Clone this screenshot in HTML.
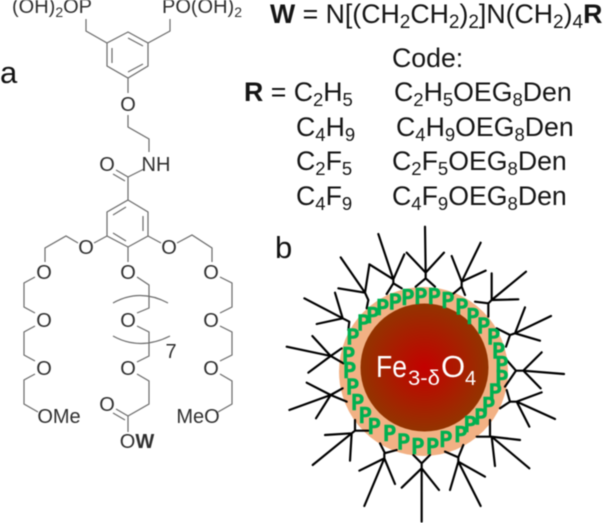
<!DOCTYPE html>
<html><head><meta charset="utf-8">
<style>
html,body{margin:0;padding:0;background:#fff;width:605px;height:523px;overflow:hidden}
svg{display:block;filter:blur(.45px)}
text{font-family:"Liberation Sans",sans-serif}
.chem text{fill:#2f2f2f;font-size:20px;text-anchor:middle}
.r text{fill:#151515;font-size:26.7px}
.p text{fill:#00b050;stroke:#00b050;stroke-width:4.5;font-size:62px;text-anchor:middle;font-family:"DejaVu Sans",sans-serif}
</style></head><body>
<svg width="605" height="523" viewBox="0 0 605 523" xmlns="http://www.w3.org/2000/svg">
<defs><radialGradient id="g"><stop offset="0" stop-color="#c40000"/><stop offset="1" stop-color="#933400"/></radialGradient></defs>

<g fill="none" stroke="#6a6a6a" stroke-width="1.2">
<path d="M128 32L148 43V66L128 78L107 66V43Z"/>
<path d="M128 38L143 46M112 48V63M128 72L143 64"/>
<path d="M107 43L86 31V19M148 43L170 31V19"/>
<path d="M128 78V93M128 115V127L149 139V152M144 169L128 177M128 177V200"/>
<path d="M128 177L116 170M125 181L113 174"/>
<path d="M128 200L148 212V236L128 247L107 236V212Z"/>
<path d="M113 215L126 207M143 216V231M113 233L126 241"/>
<path d="M107 236L94 243M78 243L66 236L45 248V262"/>
<path d="M148 236L161 243M177 243L192 235L212 248V262"/>
<path d="M128 247V262"/>
<path d="M35 277L24 283V307L35 313M35 326L24 332V355L35 361M35 374L24 380V404L38 412"/>
<path d="M137 277L149 285V308L137 313M137 326L149 332V356L137 362M137 374L149 381V404L128 416"/>
<path d="M220 277L232 283V307L220 313M220 326L232 332V355L220 361M220 374L232 381V404L218 412"/>
<path d="M128 416L116 409M125 420L113 413M128 416V432"/>
<path d="M113 303Q140 288 168 303M113 336Q140 351 170 336"/>
</g>

<g class="chem">
<text x="52" y="13">(OH)<tspan font-size="14" dy="4">2</tspan><tspan dy="-4">OP</tspan></text>
<text x="202" y="13">PO(OH)<tspan font-size="14" dy="4">2</tspan></text>
<text x="128" y="111">O</text>
<text x="156" y="171">NH</text>
<text x="107" y="171">O</text>
<text x="86" y="254">O</text>
<text x="169" y="254">O</text>
<text x="44" y="279">O</text><text x="128" y="279">O</text><text x="211" y="279">O</text>
<text x="44" y="327">O</text><text x="128" y="327">O</text><text x="211" y="327">O</text>
<text x="44" y="375">O</text><text x="128" y="375">O</text><text x="211" y="375">O</text>
<text x="59" y="423">OMe</text>
<text x="198" y="423">MeO</text>
<text x="107" y="411">O</text>
<text x="137" y="448">O<tspan font-weight="bold">W</tspan></text>
<text x="171" y="358">7</text>
</g>

<text x="0" y="83" font-size="31" fill="#111">a</text>
<text x="275" y="258" font-size="31" fill="#111">b</text>

<g class="r">
<text x="270" y="23" font-size="27.9"><tspan font-weight="bold">W</tspan> = N[(CH<tspan font-size="19" dy="5">2</tspan><tspan dy="-5">CH</tspan><tspan font-size="19" dy="5">2</tspan><tspan dy="-5">)</tspan><tspan font-size="19" dy="5">2</tspan><tspan dy="-5">]N(CH</tspan><tspan font-size="19" dy="5">2</tspan><tspan dy="-5">)</tspan><tspan font-size="19" dy="5">4</tspan><tspan dy="-5" font-weight="bold">R</tspan></text>
<text x="392" y="67" font-size="25.5">Code:</text>
<text x="244" y="101"><tspan font-weight="bold">R</tspan> = C<tspan font-size="18.5" dy="5">2</tspan><tspan dy="-5">H</tspan><tspan font-size="18.5" dy="5">5</tspan></text>
<text x="296" y="136">C<tspan font-size="18.5" dy="5">4</tspan><tspan dy="-5">H</tspan><tspan font-size="18.5" dy="5">9</tspan></text>
<text x="296" y="170">C<tspan font-size="18.5" dy="5">2</tspan><tspan dy="-5">F</tspan><tspan font-size="18.5" dy="5">5</tspan></text>
<text x="296" y="205">C<tspan font-size="18.5" dy="5">4</tspan><tspan dy="-5">F</tspan><tspan font-size="18.5" dy="5">9</tspan></text>
<text x="394" y="101">C<tspan font-size="18.5" dy="5">2</tspan><tspan dy="-5">H</tspan><tspan font-size="18.5" dy="5">5</tspan><tspan dy="-5">OEG</tspan><tspan font-size="18.5" dy="5">8</tspan><tspan dy="-5">Den</tspan></text>
<text x="396" y="136">C<tspan font-size="18.5" dy="5">4</tspan><tspan dy="-5">H</tspan><tspan font-size="18.5" dy="5">9</tspan><tspan dy="-5">OEG</tspan><tspan font-size="18.5" dy="5">8</tspan><tspan dy="-5">Den</tspan></text>
<text x="392" y="170">C<tspan font-size="18.5" dy="5">2</tspan><tspan dy="-5">F</tspan><tspan font-size="18.5" dy="5">5</tspan><tspan dy="-5">OEG</tspan><tspan font-size="18.5" dy="5">8</tspan><tspan dy="-5">Den</tspan></text>
<text x="392" y="205">C<tspan font-size="18.5" dy="5">4</tspan><tspan dy="-5">F</tspan><tspan font-size="18.5" dy="5">9</tspan><tspan dy="-5">OEG</tspan><tspan font-size="18.5" dy="5">8</tspan><tspan dy="-5">Den</tspan></text>
</g>

<circle cx="423.5" cy="371.5" r="84.5" fill="#f2b184"/>
<circle cx="424.5" cy="367.5" r="64" fill="url(#g)"/>

<g transform="translate(270 220) scale(.33333)">
<g fill="none" stroke="#000" stroke-width="6.5" stroke-linecap="round" stroke-linejoin="round">
<path d="M467 158L465 20M467 158L410 98M467 158L522 98M467 158V175M437 200L467 175L495 200"/>
<path d="M370 178L325 42M370 178L403 103M370 178L298 133M370 178V190M350 222L370 190L395 205"/>
<path d="M285 218L212 112M285 218L298 135M285 218L205 205M285 218L295 240L290 265"/>
<path d="M218 295L103 235M218 295L195 218M218 295L140 312M218 295L238 305L235 330"/>
<path d="M182 408L50 380M182 408L127 348M182 408L115 458M182 408L220 430M182 408L215 385"/>
<path d="M182 525L110 488M182 525L58 570M182 525L138 595M182 525L230 545M182 525L218 505"/>
<path d="M245 640L165 645M245 640L128 735M245 640L240 722M245 640L255 632H295M255 632V600"/>
<path d="M343 715L268 752M343 715L283 858M343 715L375 792M343 715V700L380 690M345 700L330 670"/>
<path d="M455 745L395 803M455 745V905M455 745L507 810M455 745V730L430 705M455 730L480 705"/>
<path d="M565 725L540 810M565 725L632 858M565 725L645 770M565 725V712L525 695M565 712L580 675"/>
<path d="M665 650L750 660M665 650L778 745M665 650L675 738M665 650H620M660 650V600"/>
<path d="M740 545L815 517M740 545L855 597M740 545L778 620M740 545H720L690 565M720 545L710 510"/>
<path d="M760 452L882 462M760 452L815 397M760 452L812 505M760 452H738L710 420M738 452L705 500"/>
<path d="M735 340L843 288M735 340L765 262M735 340L810 362M735 340L720 345L680 325M720 345L708 380"/>
<path d="M665 240L768 155M665 240V160M665 240L745 238M665 240L655 250L615 245M655 250V290"/>
<path d="M575 185L632 68M575 185L545 108M575 185L647 152M575 185V200L545 225M575 200L585 225"/>
</g>
<g class="p" transform="translate(0 2)">
<text x="413" y="252">P</text><text x="452" y="248">P</text><text x="492" y="248">P</text><text x="533" y="260">P</text>
<text x="575" y="280">P</text><text x="608" y="308">P</text><text x="640" y="337">P</text><text x="670" y="370">P</text>
<text x="685" y="412">P</text><text x="695" y="452">P</text><text x="695" y="495">P</text><text x="675" y="535">P</text>
<text x="655" y="575">P</text><text x="632" y="610">P</text><text x="600" y="632">P</text><text x="572" y="663">P</text>
<text x="527" y="678">P</text><text x="487" y="698">P</text><text x="443" y="698">P</text><text x="400" y="685">P</text>
<text x="358" y="660">P</text><text x="312" y="638">P</text><text x="285" y="605">P</text><text x="262" y="567">P</text>
<text x="247" y="520">P</text><text x="238" y="470">P</text><text x="235" y="425">P</text><text x="248" y="370">P</text>
<text x="280" y="328">P</text><text x="308" y="305">P</text><text x="337" y="282">P</text><text x="375" y="265">P</text>
</g>
</g>

<g fill="#fff">
<text x="376" y="377" font-size="31" textLength="31" lengthAdjust="spacingAndGlyphs">Fe</text>
<text x="408" y="385" font-size="21" textLength="32" lengthAdjust="spacingAndGlyphs">3-δ</text>
<text x="441" y="377" font-size="31">O</text>
<text x="465" y="385" font-size="20">4</text>
</g>
</svg>
</body></html>
